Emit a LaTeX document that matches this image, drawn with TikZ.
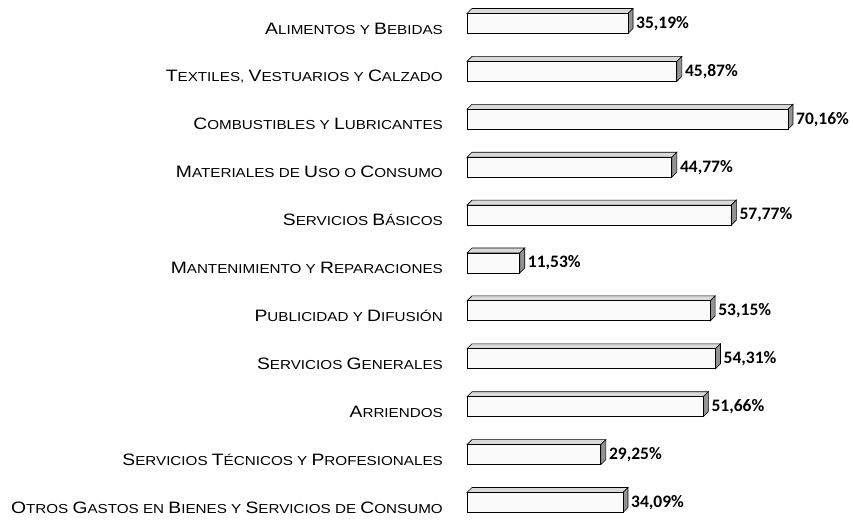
\documentclass[tikz,border=0pt]{standalone}
\usepackage{fontspec}
\newfontfamily\labfont[FakeStretch=1.17]{Liberation Sans}
\newfontfamily\pctfont{Carlito}
\newcommand\Bg[1]{{\fontsize{16.5}{16.5}\selectfont #1}}
\begin{document}
\begin{tikzpicture}[x=1pt,y=-1pt,
  labstyle/.style={font=\labfont\fontsize{13}{13}\selectfont, anchor=base east, inner sep=0pt},
  pctstyle/.style={font=\pctfont\bfseries\fontsize{17.5}{17.5}\selectfont, anchor=west, inner sep=0pt},
  frontface/.style={fill=gray!4, draw=black, line width=0.9pt},
  topface/.style={fill=gray!30, draw=black, line width=0.6pt},
  sideface/.style={fill=gray!85, draw=black, line width=0.6pt}]
\useasboundingbox[fill=white] (0,0) rectangle (853,522);
\foreach \i/\v/\t/\l in {
 0/35.19/{35,19\%}/{\Bg{A}LIMENTOS Y \Bg{B}EBIDAS},
 1/45.87/{45,87\%}/{\Bg{T}EXTILES, \Bg{V}ESTUARIOS Y \Bg{C}ALZADO},
 2/70.16/{70,16\%}/{\Bg{C}OMBUSTIBLES Y \Bg{L}UBRICANTES},
 3/44.77/{44,77\%}/{\Bg{M}ATERIALES DE \Bg{U}SO O \Bg{C}ONSUMO},
 4/57.77/{57,77\%}/{\Bg{S}ERVICIOS \Bg{B}ÁSICOS},
 5/11.53/{11,53\%}/{\Bg{M}ANTENIMIENTO Y \Bg{R}EPARACIONES},
 6/53.15/{53,15\%}/{\Bg{P}UBLICIDAD Y \Bg{D}IFUSIÓN},
 7/54.31/{54,31\%}/{\Bg{S}ERVICIOS \Bg{G}ENERALES},
 8/51.66/{51,66\%}/{\Bg{A}RRIENDOS},
 9/29.25/{29,25\%}/{\Bg{S}ERVICIOS \Bg{T}ÉCNICOS Y \Bg{P}ROFESIONALES},
 10/34.09/{34,09\%}/{\Bg{O}TROS \Bg{G}ASTOS EN \Bg{B}IENES Y \Bg{S}ERVICIOS DE \Bg{C}ONSUMO}} {
  \pgfmathsetmacro\xe{467+4.575*\v}
  \pgfmathsetmacro\yc{23.5+47.9*\i}
  \draw[topface] (467,\yc-10) -- (472,\yc-15) -- (\xe+5,\yc-15) -- (\xe,\yc-10) -- cycle;
  \draw[sideface] (\xe,\yc-10) -- (\xe+5,\yc-15) -- (\xe+5,\yc+5) -- (\xe,\yc+10) -- cycle;
  \draw[frontface] (467,\yc-10) rectangle (\xe,\yc+10);
  \node[pctstyle] (p\i) at (\xe+8,\yc) {\t};
  \node[labstyle] (l\i) at (443,\yc+10.5) {\l};
}
\end{tikzpicture}
\end{document}
